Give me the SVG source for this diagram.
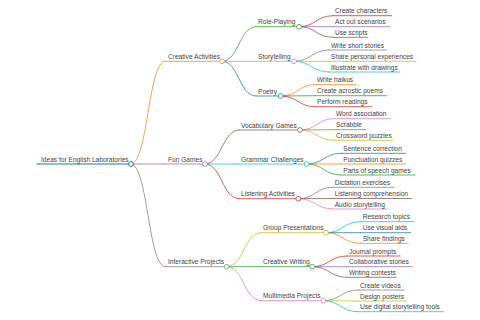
<svg xmlns="http://www.w3.org/2000/svg" width="480" height="320" viewBox="0 0 480 320">
<style>
text{font-family:"Liberation Sans",Arial,sans-serif;font-size:6.6px;fill:#444}
path,line{fill:none;stroke-width:1;stroke-linecap:round}
circle{fill:#fff;stroke-width:1}
.c0{stroke:#1f77b4}.c1{stroke:#ff7f0e}.c2{stroke:#2ca02c}.c3{stroke:#d62728}.c4{stroke:#9467bd}
.c5{stroke:#8c564b}.c6{stroke:#e377c2}.c7{stroke:#7f7f7f}.c8{stroke:#bcbd22}.c9{stroke:#17becf}
</style>
<rect width="480" height="320" fill="#fff"/>
<g id="connectors" stroke-opacity="0.75">
<path class="c1" d="M131,164 C148,164 148,61.3 165,61.3"/>
<path class="c4" d="M131,164 L165,164"/>
<path class="c7" d="M131,164 C148,164 148,266.7 165,266.7"/>
<path class="c2" d="M222,61.3 C239,61.3 239,26.7 256,26.7"/>
<path class="c6" d="M222,61.3 L256,61.3"/>
<path class="c0" d="M222,61.3 C239,61.3 239,96 256,96"/>
<path class="c3" d="M299,26.7 C316,26.7 316,15.7 333,15.7"/>
<path class="c4" d="M299,26.7 L333,26.7"/>
<path class="c5" d="M299,26.7 C316,26.7 316,37.3 333,37.3"/>
<path class="c7" d="M294,61.3 C311.5,61.3 311.5,50 329,50"/>
<path class="c8" d="M294,61.3 L329,61.3"/>
<path class="c9" d="M294,61.3 C311.5,61.3 311.5,72 329,72"/>
<path class="c1" d="M280.7,96 C298,96 298,84.7 315,84.7"/>
<path class="c2" d="M280.7,96 L315,95.7"/>
<path class="c3" d="M280.7,96 C298,96 298,106.7 315,106.7"/>
<path class="c5" d="M205,164 C222,164 222,130 239,130"/>
<path class="c9" d="M205,164 L239,164"/>
<path class="c3" d="M205,164 C222,164 222,198.7 239,198.7"/>
<path class="c6" d="M300,130 C317,130 317,118.7 334,118.7"/>
<path class="c7" d="M300,130 L334,129.7"/>
<path class="c8" d="M300,130 C317,130 317,140.3 334,140.3"/>
<path class="c0" d="M306.7,164 C324,164 324,153.3 341,153.3"/>
<path class="c1" d="M306.7,164 L341,164"/>
<path class="c2" d="M306.7,164 C324,164 324,175 341,175"/>
<path class="c4" d="M298.3,198.7 C315.5,198.7 315.5,187.3 333,187.3"/>
<path class="c5" d="M298.3,198.7 L333,198.5"/>
<path class="c6" d="M298.3,198.7 C315.5,198.7 315.5,209 333,209"/>
<path class="c8" d="M226.7,266.7 C244,266.7 244,232.7 261,232.7"/>
<path class="c2" d="M226.7,266.7 L261,266.7"/>
<path class="c6" d="M226.7,266.7 C244,266.7 244,300.7 261,300.7"/>
<path class="c9" d="M326,232.7 C343,232.7 343,221.7 360.5,221.7"/>
<path class="c0" d="M326,232.7 L360.5,232.7"/>
<path class="c1" d="M326,232.7 C343,232.7 343,243.3 360.5,243.3"/>
<path class="c3" d="M312.3,266.7 C329.5,266.7 329.5,256 347,256"/>
<path class="c4" d="M312.3,266.7 L347,266.7"/>
<path class="c5" d="M312.3,266.7 C329.5,266.7 329.5,277.3 347,277.3"/>
<path class="c7" d="M323.3,300.7 C340.5,300.7 340.5,290 358,290"/>
<path class="c8" d="M323.3,300.7 L358,301"/>
<path class="c9" d="M323.3,300.7 C340.5,300.7 340.5,311.7 358,311.7"/>
</g>
<g id="root"><line class="c0" x1="37" y1="164" x2="131" y2="164" stroke-width="1.5"/><circle class="c0" cx="131" cy="164" r="2.4"/><text x="41" y="161.8">Ideas for English Laboratories</text></g>
<g id="creative-activities" stroke-opacity="0.75"><line class="c1" x1="165" y1="61.3" x2="222" y2="61.3"/><circle class="c1" cx="222" cy="61.3" r="2.4"/><text x="168" y="59">Creative Activities</text></g>
<g id="role-playing" stroke-opacity="0.75"><line class="c2" x1="256" y1="26.7" x2="299" y2="26.7"/><circle class="c2" cx="299" cy="26.7" r="2.4"/><text x="258" y="24.4">Role-Playing</text></g>
<g id="create-characters" stroke-opacity="0.75"><line class="c3" x1="333" y1="15.7" x2="391.7" y2="15.7"/><text x="335" y="13.4">Create characters</text></g>
<g id="act-out-scenarios" stroke-opacity="0.75"><line class="c4" x1="333" y1="26.7" x2="390" y2="26.7"/><text x="335" y="24.4">Act out scenarios</text></g>
<g id="use-scripts" stroke-opacity="0.75"><line class="c5" x1="333" y1="37.3" x2="368" y2="37.3"/><text x="335" y="35">Use scripts</text></g>
<g id="storytelling" stroke-opacity="0.75"><line class="c6" x1="256" y1="61.3" x2="294" y2="61.3"/><circle class="c6" cx="294" cy="61.3" r="2.4"/><text x="258" y="59">Storytelling</text></g>
<g id="write-short-stories" stroke-opacity="0.75"><line class="c7" x1="329" y1="50" x2="386.7" y2="50"/><text x="331" y="47.7">Write short stories</text></g>
<g id="share-personal-experiences" stroke-opacity="0.75"><line class="c8" x1="329" y1="61.3" x2="416" y2="61.3"/><text x="331" y="59">Share personal experiences</text></g>
<g id="illustrate-with-drawings" stroke-opacity="0.75"><line class="c9" x1="329" y1="72" x2="400" y2="72"/><text x="331" y="69.7">Illustrate with drawings</text></g>
<g id="poetry" stroke-opacity="0.75"><line class="c0" x1="256" y1="96" x2="280.7" y2="96"/><circle class="c0" cx="280.7" cy="96" r="2.4"/><text x="258" y="93.7">Poetry</text></g>
<g id="write-haikus" stroke-opacity="0.75"><line class="c1" x1="315" y1="84.7" x2="356.7" y2="84.7"/><text x="317" y="82.4">Write haikus</text></g>
<g id="create-acrostic-poems" stroke-opacity="0.75"><line class="c2" x1="315" y1="95.7" x2="386.7" y2="95.7"/><text x="317" y="93.4">Create acrostic poems</text></g>
<g id="perform-readings" stroke-opacity="0.75"><line class="c3" x1="315" y1="106.7" x2="371.7" y2="106.7"/><text x="317" y="104.4">Perform readings</text></g>
<g id="fun-games" stroke-opacity="0.75"><line class="c4" x1="165" y1="164" x2="205" y2="164"/><circle class="c4" cx="205" cy="164" r="2.4"/><text x="168" y="161.8">Fun Games</text></g>
<g id="vocabulary-games" stroke-opacity="0.75"><line class="c5" x1="239" y1="130" x2="300" y2="130"/><circle class="c5" cx="300" cy="130" r="2.4"/><text x="241" y="127.7">Vocabulary Games</text></g>
<g id="word-association" stroke-opacity="0.75"><line class="c6" x1="334" y1="118.7" x2="390" y2="118.7"/><text x="336" y="116.4">Word association</text></g>
<g id="scrabble" stroke-opacity="0.75"><line class="c7" x1="334" y1="129.7" x2="366" y2="129.7"/><text x="336" y="127.4">Scrabble</text></g>
<g id="crossword-puzzles" stroke-opacity="0.75"><line class="c8" x1="334" y1="140.3" x2="392.7" y2="140.3"/><text x="336" y="138">Crossword puzzles</text></g>
<g id="grammar-challenges" stroke-opacity="0.75"><line class="c9" x1="239" y1="164" x2="306.7" y2="164"/><circle class="c9" cx="306.7" cy="164" r="2.4"/><text x="241" y="161.8">Grammar Challenges</text></g>
<g id="sentence-correction" stroke-opacity="0.75"><line class="c0" x1="341" y1="153.3" x2="405.7" y2="153.3"/><text x="343.3" y="151">Sentence correction</text></g>
<g id="punctuation-quizzes" stroke-opacity="0.75"><line class="c1" x1="341" y1="164" x2="405.7" y2="164"/><text x="343.3" y="161.8">Punctuation quizzes</text></g>
<g id="parts-of-speech-games" stroke-opacity="0.75"><line class="c2" x1="341" y1="175" x2="415" y2="175"/><text x="343.3" y="172.7">Parts of speech games</text></g>
<g id="listening-activities" stroke-opacity="0.75"><line class="c3" x1="239" y1="198.7" x2="298.3" y2="198.7"/><circle class="c3" cx="298.3" cy="198.7" r="2.4"/><text x="241" y="196.4">Listening Activities</text></g>
<g id="dictation-exercises" stroke-opacity="0.75"><line class="c4" x1="333" y1="187.3" x2="394" y2="187.3"/><text x="334.7" y="185">Dictation exercises</text></g>
<g id="listening-comprehension" stroke-opacity="0.75"><line class="c5" x1="333" y1="198.5" x2="411.7" y2="198.5"/><text x="334.7" y="196.2">Listening comprehension</text></g>
<g id="audio-storytelling" stroke-opacity="0.75"><line class="c6" x1="333" y1="209" x2="388" y2="209"/><text x="334.7" y="206.7">Audio storytelling</text></g>
<g id="interactive-projects" stroke-opacity="0.75"><line class="c7" x1="165" y1="266.7" x2="226.7" y2="266.7"/><circle class="c7" cx="226.7" cy="266.7" r="2.4"/><text x="168" y="264.4">Interactive Projects</text></g>
<g id="group-presentations" stroke-opacity="0.75"><line class="c8" x1="261" y1="232.7" x2="326" y2="232.7"/><circle class="c8" cx="326" cy="232.7" r="2.4"/><text x="263" y="230.4">Group Presentations</text></g>
<g id="research-topics" stroke-opacity="0.75"><line class="c9" x1="360.5" y1="221.7" x2="414" y2="221.7"/><text x="362.7" y="219.4">Research topics</text></g>
<g id="use-visual-aids" stroke-opacity="0.75"><line class="c0" x1="360.5" y1="232.7" x2="410.7" y2="232.7"/><text x="362.7" y="230.4">Use visual aids</text></g>
<g id="share-findings" stroke-opacity="0.75"><line class="c1" x1="360.5" y1="243.3" x2="408.3" y2="243.3"/><text x="362.7" y="241">Share findings</text></g>
<g id="creative-writing" stroke-opacity="0.75"><line class="c2" x1="261" y1="266.7" x2="312.3" y2="266.7"/><circle class="c2" cx="312.3" cy="266.7" r="2.4"/><text x="263" y="264.4">Creative Writing</text></g>
<g id="journal-prompts" stroke-opacity="0.75"><line class="c3" x1="347" y1="256" x2="400" y2="256"/><text x="349" y="253.7">Journal prompts</text></g>
<g id="collaborative-stories" stroke-opacity="0.75"><line class="c4" x1="347" y1="266.7" x2="412.3" y2="266.7"/><text x="349" y="264.4">Collaborative stories</text></g>
<g id="writing-contests" stroke-opacity="0.75"><line class="c5" x1="347" y1="277.3" x2="396" y2="277.3"/><text x="349" y="275">Writing contests</text></g>
<g id="multimedia-projects" stroke-opacity="0.75"><line class="c6" x1="261" y1="300.7" x2="323.3" y2="300.7"/><circle class="c6" cx="323.3" cy="300.7" r="2.4"/><text x="263" y="298.4">Multimedia Projects</text></g>
<g id="create-videos" stroke-opacity="0.75"><line class="c7" x1="358" y1="290" x2="404.3" y2="290"/><text x="360" y="287.7">Create videos</text></g>
<g id="design-posters" stroke-opacity="0.75"><line class="c8" x1="358" y1="301" x2="406.7" y2="301"/><text x="360" y="298.7">Design posters</text></g>
<g id="use-digital-storytelling-tools" stroke-opacity="0.75"><line class="c9" x1="358" y1="311.7" x2="443.3" y2="311.7"/><text x="360" y="309.4">Use digital storytelling tools</text></g>
</svg>
